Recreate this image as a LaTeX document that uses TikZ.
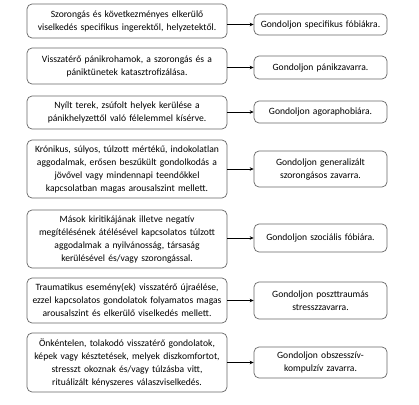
\documentclass[tikz,border=0pt]{standalone}
\usepackage{fontspec}
\setmainfont{Carlito}
\usetikzlibrary{arrows.meta,positioning}

\begin{document}
\begin{tikzpicture}[x=1pt,y=-1pt,
    sympt/.style={draw=gray!80!black, rounded corners=5pt, line width=0.7pt, align=center,
      text width=194pt, minimum width=200pt, inner sep=2pt, font=\fontsize{9.6}{13}\selectfont},
    diag/.style={draw=gray!80!black, rounded corners=5pt, line width=0.7pt, align=center,
      text width=128pt, minimum width=133pt, inner sep=2pt, font=\fontsize{9.6}{13}\selectfont},
    link/.style={-{Stealth[length=4pt,width=3.5pt]}, line width=0.8pt}]
    \useasboundingbox (0,0) rectangle (419,404);

    % Symptom descriptions (left column)
    \node[sympt, minimum height=34pt] (sym1) at (127,21) {Szorongás és következményes elkerülő\\viselkedés specifikus ingerektől, helyzetektől.};
    \node[sympt, minimum height=36pt] (sym2) at (127,66) {Visszatérő pánikrohamok, a szorongás és a\\pániktünetek katasztrofizálása.};
    \node[sympt, minimum height=33pt] (sym3) at (127,112.5) {Nyílt terek, zsúfolt helyek kerülése a\\pánikhelyzettől való félelemmel kísérve.};
    \node[sympt, minimum height=58pt] (sym4) at (127,169) {Krónikus, súlyos, túlzott mértékű, indokolatlan\\aggodalmak, erősen beszűkült gondolkodás a\\jövővel vagy mindennapi teendőkkel\\kapcsolatban magas arousalszint mellett.};
    \node[sympt, minimum height=58pt] (sym5) at (127,239) {Mások kiritikájának illetve negatív\\megítélésének átélésével kapcsolatos túlzott\\aggodalmak a nyilvánosság, társaság\\kerülésével és/vagy szorongással.};
    \node[sympt, minimum height=45pt] (sym6) at (127,300.5) {Traumatikus esemény(ek) visszatérő újraélése,\\ezzel kapcsolatos gondolatok folyamatos magas\\arousalszint és elkerülő viselkedés mellett.};
    \node[sympt, minimum height=59pt] (sym7) at (127,362.5) {Önkéntelen, tolakodó visszatérő gondolatok,\\képek vagy késztetések, melyek diszkomfortot,\\stresszt okoznak és/vagy túlzásba vitt,\\rituálizált kényszeres válaszviselkedés.};

    % Suggested diagnoses (right column)
    \node[diag, minimum height=21pt] (dx1) at (320.5,24.5) {Gondoljon specifikus fóbiákra.};
    \node[diag, minimum height=23pt] (dx2) at (320.5,67.5) {Gondoljon pánikzavarra.};
    \node[diag, minimum height=22pt] (dx3) at (320.5,112) {Gondoljon agoraphobiára.};
    \node[diag, minimum height=36pt] (dx4) at (320.5,169) {Gondoljon generalizált\\szorongásos zavarra.};
    \node[diag, minimum height=28pt] (dx5) at (320.5,238) {Gondoljon szociális fóbiára.};
    \node[diag, minimum height=37pt] (dx6) at (320.5,300.5) {Gondoljon poszttraumás\\stresszzavarra.};
    \node[diag, minimum height=31pt] (dx7) at (320.5,362.5) {Gondoljon obszesszív-\\kompulzív zavarra.};

    % Arrows
    \draw[link] (sym1.east |- dx1.west) -- (dx1.west);
    \draw[link] (sym2.east |- dx2.west) -- (dx2.west);
    \draw[link] (sym3.east |- dx3.west) -- (dx3.west);
    \draw[link] (sym4.east |- dx4.west) -- (dx4.west);
    \draw[link] (sym5.east |- dx5.west) -- (dx5.west);
    \draw[link] (sym6.east |- dx6.west) -- (dx6.west);
    \draw[link] (sym7.east |- dx7.west) -- (dx7.west);
\end{tikzpicture}
\end{document}
